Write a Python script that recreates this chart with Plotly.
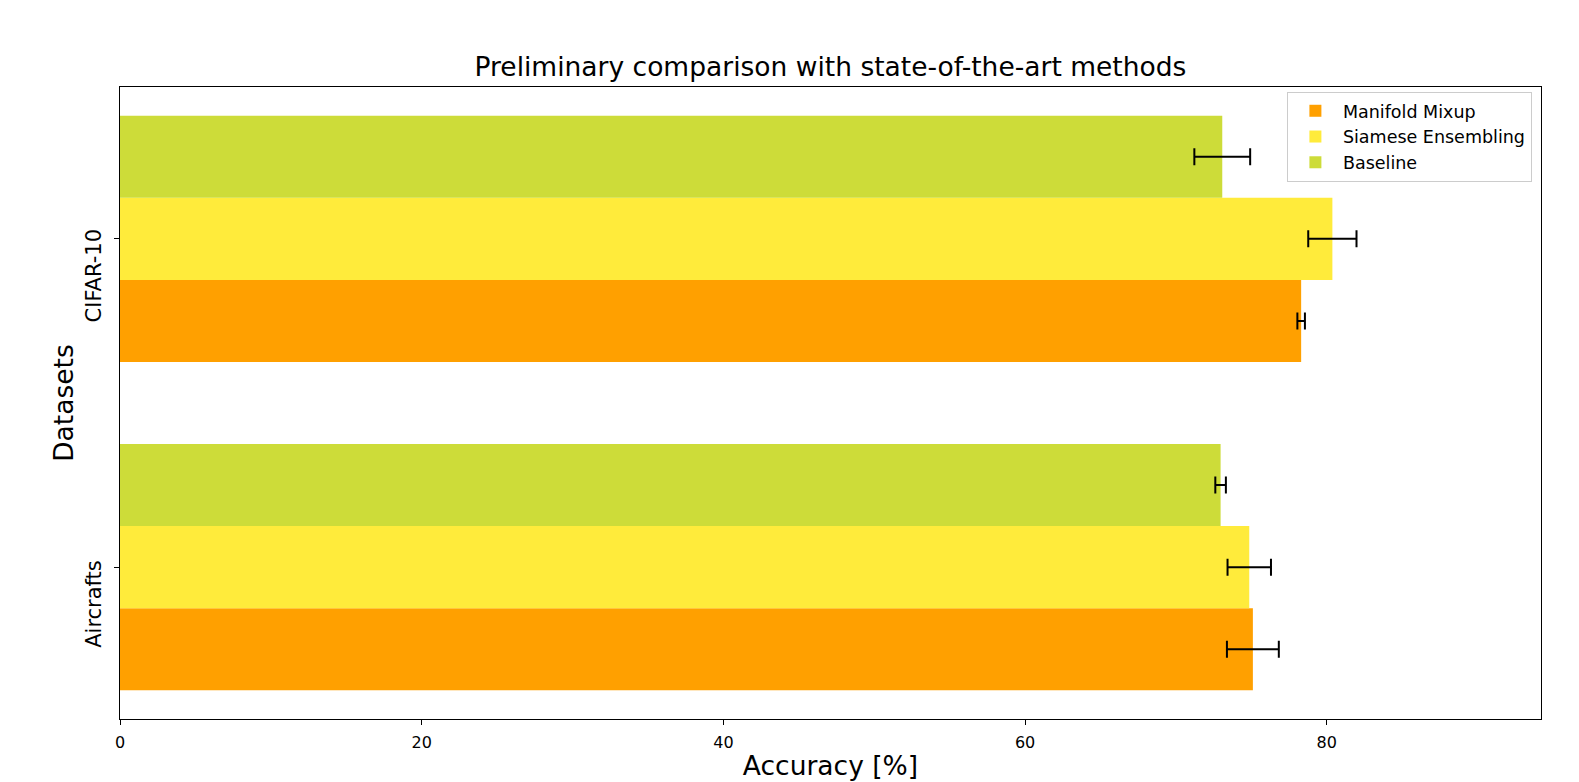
import plotly.graph_objects as go

# ---- data ----
datasets = ["Aircrafts", "CIFAR-10"]
methods = ["Manifold Mixup", "Siamese Ensembling", "Baseline"]
manifold_acc = [75.1, 78.3]
manifold_err = [1.72, 0.25]
siamese_acc = [74.86, 80.37]
siamese_err = [1.44, 1.6]
baseline_acc = [72.96, 73.07]
baseline_err = [0.35, 1.85]
x_ticks = [0, 20, 40, 60, 80]

colors = ["#FFA000", "#FFEB3B", "#CDDC39"]

# page geometry (the browser page adds an 8px body margin)
PAGE_W, PAGE_H = 1579, 782
OFF = 8
W, H = PAGE_W - OFF, PAGE_H - OFF
PL, PR, PT, PB = 119.8, 1540.7, 86.6, 719.0   # plot area in page pixels
ML, MT = PL - OFF, PT - OFF
MR, MB = PAGE_W - PR, (H + OFF) - PB
PW = PR - PL
PH = PB - PT


def px_to_paper_x(px):
    return (px - PL) / PW


def px_to_paper_y(py):
    return (PB - py) / PH


fig = go.Figure()
for name, acc, err, col in zip(methods,
                                [manifold_acc, siamese_acc, baseline_acc],
                                [manifold_err, siamese_err, baseline_err],
                                colors):
    fig.add_trace(go.Bar(
        y=datasets, x=acc, name=name, orientation="h",
        marker=dict(color=col, line=dict(width=0)),
        error_x=dict(type="data", array=err, visible=True,
                     color="black", thickness=2, width=8.5),
    ))

font = "DejaVu Sans, Arial, sans-serif"

fig.update_layout(
    width=W, height=H,
    margin=dict(l=ML, r=MR, t=MT, b=MB, pad=0, autoexpand=False),
    paper_bgcolor="white", plot_bgcolor="white",
    barmode="group", bargap=0.25, bargroupgap=0,
    font=dict(family=font, color="black"),
    title=dict(text="Preliminary comparison with state-of-the-art methods",
               x=px_to_paper_x(830.2), xref="paper", xanchor="center",
               y=1 - (66.5 - OFF) / H, yref="container", yanchor="middle",
               font=dict(size=26.5, family=font, color="black")),
    xaxis=dict(range=[0, 94.2], tickvals=x_ticks, ticktext=[str(v) for v in x_ticks],
               automargin=False,
               showgrid=False, zeroline=False, showline=True, mirror=True,
               linecolor="black", linewidth=1.2, ticks="outside", ticklen=5,
               tickcolor="black", tickwidth=1.2, ticklabelstandoff=4,
               tickfont=dict(size=16, family=font, color="black"),
               title=dict(text="Accuracy [%]", font=dict(size=26.5, family=font, color="black"),
                          standoff=5)),
    yaxis=dict(range=[-0.4625, 1.4625], type="category",
               categoryorder="array", categoryarray=datasets,
               automargin=False,
               showgrid=False, zeroline=False, showline=True, mirror=True,
               linecolor="black", linewidth=1.2, ticks="outside", ticklen=5,
               tickcolor="black", tickwidth=1.2, tickangle=-90,
               ticklabelstandoff=5, ticklabelshift=40,
               tickfont=dict(size=21, family=font, color="black"),
               title=dict(text="Datasets", font=dict(size=26.5, family=font, color="black"),
                          standoff=0)),
    legend=dict(x=px_to_paper_x(1531.6), xanchor="right",
                y=px_to_paper_y(91.5), yanchor="top",
                bgcolor="rgba(255,255,255,0.8)", bordercolor="#cccccc", borderwidth=1,
                font=dict(size=17.5, family=font, color="black"),
                itemwidth=45, traceorder="normal", tracegroupgap=0),
    showlegend=True,
)

# dashed vertical border line at the right edge of the page
fig.add_shape(type="line", xref="paper", yref="paper", layer="above",
              x0=px_to_paper_x(1576.5), x1=px_to_paper_x(1576.5),
              y0=px_to_paper_y(OFF), y1=px_to_paper_y(H + OFF),
              line=dict(color="#FFC107", width=5, dash="21px,19px"))

fig.write_html("out.html")
